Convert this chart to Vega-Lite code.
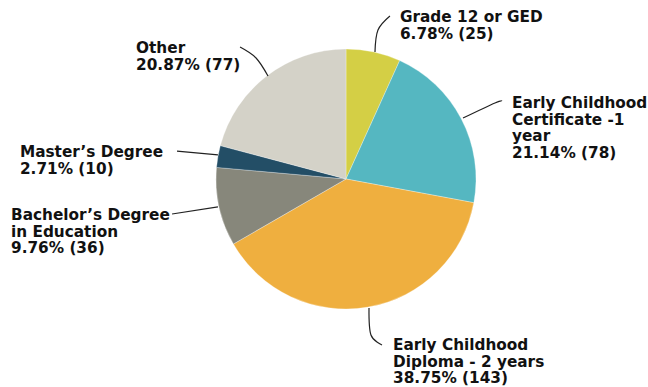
{
  "$schema": "https://vega.github.io/schema/vega-lite/v6.json",
  "width": 648,
  "height": 387,
  "autosize": {"type": "fit", "contains": "padding"},
  "padding": 0,
  "background": "white",
  "config": {"view": {"stroke": null}},
  "datasets": {
    "slices": [
      {"category": "Grade 12 or GED", "count": 25, "order": 1},
      {"category": "Early Childhood Certificate -1 year", "count": 78, "order": 2},
      {"category": "Early Childhood Diploma - 2 years", "count": 143, "order": 3},
      {"category": "Bachelor's Degree in Education", "count": 36, "order": 4},
      {"category": "Master's Degree", "count": 10, "order": 5},
      {"category": "Other", "count": 77, "order": 6}
    ],
    "labels": [
      {"label": "Grade 12 or GED\n6.78% (25)", "lx": 41.5, "ly": 120.8},
      {"label": "Early Childhood\nCertificate -1\nyear\n21.14% (78)", "lx": 127.7, "ly": 54.6},
      {"label": "Early Childhood\nDiploma - 2 years\n38.75% (143)", "lx": 36.2, "ly": -131.5},
      {"label": "Bachelor’s Degree\nin Education\n9.76% (36)", "lx": -257.7, "ly": -31.5},
      {"label": "Master’s Degree\n2.71% (10)", "lx": -250.8, "ly": 16.9},
      {"label": "Other\n20.87% (77)", "lx": -161.5, "ly": 96.9}
    ],
    "leaders": [
      {"id": "grade", "i": 1, "lx": 22.3, "ly": 97.7},
      {"id": "grade", "i": 2, "lx": 24.6, "ly": 114.6},
      {"id": "grade", "i": 3, "lx": 33.8, "ly": 125.4},
      {"id": "cert", "i": 1, "lx": 90, "ly": 46.9},
      {"id": "cert", "i": 2, "lx": 114.6, "ly": 58.5},
      {"id": "cert", "i": 3, "lx": 120, "ly": 60},
      {"id": "dipl", "i": 1, "lx": 17.7, "ly": -99.2},
      {"id": "dipl", "i": 2, "lx": 19.2, "ly": -120},
      {"id": "dipl", "i": 3, "lx": 27.7, "ly": -127.7},
      {"id": "bach", "i": 1, "lx": -98.5, "ly": -21.5},
      {"id": "bach", "i": 2, "lx": -133.8, "ly": -26.9},
      {"id": "mast", "i": 1, "lx": -98.5, "ly": 18.5},
      {"id": "mast", "i": 2, "lx": -130, "ly": 21.5},
      {"id": "other", "i": 1, "lx": -60, "ly": 79.2},
      {"id": "other", "i": 2, "lx": -69.2, "ly": 93.1},
      {"id": "other", "i": 3, "lx": -81.5, "ly": 101.5}
    ]
  },
  "layer": [
    {
      "data": {"name": "slices"},
      "mark": {"type": "arc", "outerRadius": 130, "stroke": "white", "strokeWidth": 0.3},
      "encoding": {
        "x": {"datum": 0, "type": "quantitative", "scale": {"domain": [-266.15, 232.31], "nice": false, "zero": false}, "axis": null},
        "y": {"datum": 0, "type": "quantitative", "scale": {"domain": [-160, 137.69], "nice": false, "zero": false}, "axis": null},
        "theta": {"field": "count", "type": "quantitative", "stack": true},
        "order": {"field": "order", "type": "quantitative"},
        "color": {
          "field": "category",
          "type": "nominal",
          "legend": null,
          "scale": {
            "domain": ["Grade 12 or GED", "Early Childhood Certificate -1 year", "Early Childhood Diploma - 2 years", "Bachelor's Degree in Education", "Master's Degree", "Other"],
            "range": ["#d4cf45", "#55b7c1", "#efaf3f", "#87877b", "#234e66", "#d4d2c8"]
          }
        }
      }
    },
    {
      "data": {"name": "leaders"},
      "mark": {"type": "line", "color": "#222222", "strokeWidth": 1.2, "interpolate": "cardinal"},
      "encoding": {
        "x": {"field": "lx", "type": "quantitative", "axis": null},
        "y": {"field": "ly", "type": "quantitative", "axis": null},
        "detail": {"field": "id"},
        "order": {"field": "i", "type": "quantitative"}
      }
    },
    {
      "data": {"name": "labels"},
      "mark": {"type": "text", "align": "left", "baseline": "alphabetic", "lineBreak": "\n", "fontSize": 15.3, "fontWeight": "bold", "font": "DejaVu Sans", "lineHeight": 16.7, "color": "#111111"},
      "encoding": {
        "x": {"field": "lx", "type": "quantitative", "axis": null},
        "y": {"field": "ly", "type": "quantitative", "axis": null},
        "text": {"field": "label"}
      }
    }
  ]
}
